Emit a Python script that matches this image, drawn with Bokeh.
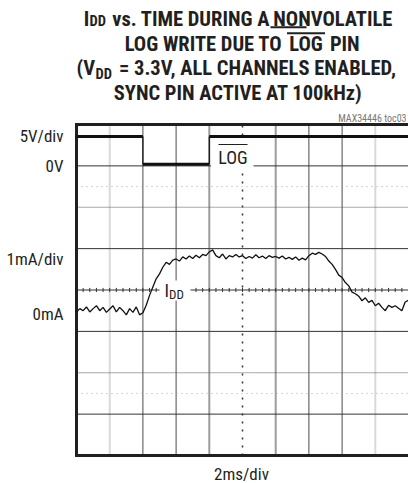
from bokeh.plotting import figure
from bokeh.models import Range1d, Label
from bokeh.embed import file_html
from bokeh.resources import INLINE

# ---------------- data ----------------
time_ms = [
    0.0, 0.2, 0.4, 0.6, 0.8, 1.0, 1.2, 1.4, 1.6, 1.8,
    2.0, 2.2, 2.4, 2.6, 2.8, 3.0, 3.2, 3.4, 3.6, 3.8,
    4.0, 4.2, 4.4, 4.6, 4.8, 5.0, 5.2, 5.4, 5.6, 5.8,
    6.0, 6.2, 6.4, 6.6, 6.8, 7.0, 7.2, 7.4, 7.6, 7.8,
    8.0, 8.2, 8.4, 8.6, 8.8, 9.0, 9.2, 9.4, 9.6, 9.8,
    10.0, 10.2, 10.4, 10.6, 10.8, 11.0, 11.2, 11.4, 11.6, 11.8,
    12.0, 12.2, 12.4, 12.6, 12.8, 13.0, 13.2, 13.4, 13.6, 13.8,
    14.0, 14.2, 14.4, 14.6, 14.8, 15.0, 15.2, 15.4, 15.6, 15.8,
    16.0, 16.2, 16.4, 16.6, 16.8, 17.0, 17.2, 17.4, 17.6, 17.8,
    18.0, 18.2, 18.4, 18.6, 18.8, 19.0, 19.2, 19.4, 19.6, 19.8,
    20.0,
]
idd_ma = [
    -0.03, 0.05, 0.00, 0.09, -0.03, 0.05, 0.12, 0.00, 0.08, -0.04,
    0.04, 0.12, -0.03, 0.08, 0.00, -0.10, 0.05, -0.04, 0.09, -0.10,
    -0.05, 0.13, 0.37, 0.57, 0.77, 0.89, 1.05, 1.17, 1.12, 1.22,
    1.25, 1.20, 1.30, 1.25, 1.32, 1.26, 1.34, 1.28, 1.36, 1.33,
    1.42, 1.47, 1.33, 1.28, 1.37, 1.25, 1.33, 1.30, 1.36, 1.30,
    1.33, 1.26, 1.31, 1.27, 1.35, 1.28, 1.32, 1.26, 1.33, 1.29,
    1.31, 1.27, 1.32, 1.25, 1.29, 1.24, 1.30, 1.22, 1.27, 1.23,
    1.33, 1.39, 1.36, 1.41, 1.37, 1.31, 1.20, 1.12, 1.00, 0.86,
    0.80, 0.68, 0.60, 0.45, 0.41, 0.35, 0.24, 0.31, 0.20, 0.25,
    0.12, 0.18, 0.08, 0.00, 0.13, 0.08, 0.12, 0.06, 0.00, 0.21,
    0.25,
]
log_time_ms = [0.0, 4.0, 4.0, 8.0, 8.0, 20.0]
log_volts = [3.55, 3.55, 0.2, 0.2, 3.55, 3.55]

# scope settings
MS_PER_DIV = 2.0
V_PER_DIV = 5.0
MA_PER_DIV = 1.0
LOG_ZERO_DIV = 7.0
IDD_ZERO_DIV = 3.5
N_XDIV = 10
N_YDIV = 8

# ---------------- layout (pixels in the picture) ----------------
W, H = 408, 483
PAGE_LEFT, PAGE_TOP = 0, 0
SCOPE_L, SCOPE_R, SCOPE_T, SCOPE_B = 76, 408, 124, 455
px_per_ms = (SCOPE_R - SCOPE_L) / (N_XDIV * MS_PER_DIV)
px_per_div = (SCOPE_B - SCOPE_T) / N_YDIV


def X(px):
    return (px - SCOPE_L) / px_per_ms


def Y(py):
    return (SCOPE_B - py) / px_per_div


FONT = "Roboto Condensed, Liberation Sans Narrow, DejaVu Sans Condensed, Roboto, sans-serif"
INK = "#231f20"

p = figure(width=W, height=H, output_backend="svg", toolbar_location=None,
           x_range=Range1d(X(PAGE_LEFT), X(PAGE_LEFT + W)),
           y_range=Range1d(Y(PAGE_TOP + H), Y(PAGE_TOP)),
           x_axis_location=None, y_axis_location=None, min_border=0)
p.outline_line_color = None
p.grid.grid_line_color = None
p.background_fill_color = "white"
p.border_fill_color = "white"

XMAX = N_XDIV * MS_PER_DIV

# vertical graticule
light = [MS_PER_DIV * i for i in (1, 9)]
medium = [MS_PER_DIV * i for i in (4, 6)]
dark = [MS_PER_DIV * i for i in (2, 3, 7, 8)]
p.segment(x0=light, y0=[0] * 2, x1=light, y1=[N_YDIV] * 2, line_color="#d9d9d9", line_width=2)
p.segment(x0=medium, y0=[0] * 2, x1=medium, y1=[N_YDIV] * 2, line_color="#9c9c9c", line_width=2)
p.segment(x0=dark, y0=[0] * 4, x1=dark, y1=[N_YDIV] * 4, line_color="#4a4a4a", line_width=1)
xc = MS_PER_DIV * N_XDIV / 2
p.segment(x0=[xc], y0=[0], x1=[xc], y1=[N_YDIV], line_color="#333333", line_width=1.5, line_dash="2 6")

# horizontal graticule
hsolid = [1, 3, 5, 7]
p.segment(x0=[0] * 4, y0=hsolid, x1=[XMAX] * 4, y1=hsolid, line_color="#333333", line_width=1)
hdot = [2, 6]
p.segment(x0=[0] * 2, y0=hdot, x1=[XMAX] * 2, y1=hdot, line_color="#555555", line_width=1.2, line_dash="1 1")
hsparse = [1.5, 6.5]
p.segment(x0=[0] * 2, y0=hsparse, x1=[XMAX] * 2, y1=hsparse, line_color="#aaaaaa", line_width=1, line_dash="1 4")
yc = N_YDIV / 2
p.segment(x0=[0], y0=[yc], x1=[XMAX], y1=[yc], line_color="#333333", line_width=1)
ticks = [0.4 * k for k in range(1, 50)]
p.segment(x0=ticks, y0=[yc - 0.05] * len(ticks), x1=ticks, y1=[yc + 0.05] * len(ticks),
          line_color="#333333", line_width=1)

# white boxes behind in-plot labels
p.quad(left=[X(210.5), X(159)], right=[X(253), X(190)], top=[Y(139), Y(280)], bottom=[Y(168), Y(300)],
       fill_color="white", line_color=None)

# scope border (left, top, bottom)
p.line([XMAX, 0, 0, XMAX], [N_YDIV, N_YDIV, 0, 0], line_color=INK, line_width=3, line_join="miter")

# LOG trace
log_y = [LOG_ZERO_DIV + v / V_PER_DIV for v in log_volts]
hx0, hy0, hx1, hy1, vx0, vy0, vx1, vy1 = [], [], [], [], [], [], [], []
for i in range(len(log_time_ms) - 1):
    if log_time_ms[i] == log_time_ms[i + 1]:
        vx0.append(log_time_ms[i]); vy0.append(log_y[i]); vx1.append(log_time_ms[i + 1]); vy1.append(log_y[i + 1])
    else:
        hx0.append(log_time_ms[i]); hy0.append(log_y[i]); hx1.append(log_time_ms[i + 1]); hy1.append(log_y[i + 1])
p.segment(x0=hx0, y0=hy0, x1=hx1, y1=hy1, line_color="#111111", line_width=3)
p.segment(x0=vx0, y0=vy0, x1=vx1, y1=vy1, line_color="#111111", line_width=1.2)

# IDD trace
idd_y = [IDD_ZERO_DIV + v / MA_PER_DIV for v in idd_ma]
p.line(time_ms, idd_y, line_color="#111111", line_width=1.3)

# over/underlines (LOG label, title LOG, title NON)
p.segment(x0=[X(218), X(286.5), X(270)], y0=[Y(144), Y(32.7), Y(26.8)],
          x1=[X(247), X(324.5), X(306)], y1=[Y(144), Y(32.7), Y(26.8)],
          line_color=[INK, INK, INK], line_width=[1.2, 2, 2])


def lab(text, px, py, size, align="left", bold=False, color=INK):
    # py = vertical centre of the capitals
    p.add_layout(Label(x=X(px), y=Y(py), text=text, text_font=FONT, text_font_size=f"{size}px",
                       text_font_style="bold" if bold else "normal", text_color=color,
                       text_align=align, text_baseline="middle"))


# title
TS = 20.5
SUB = 14.6
lab("I", 83.2, 18.7, TS, bold=True)
lab("DD", 89.1, 20.8, SUB, bold=True)
lab("vs. TIME DURING A", 111.7, 18.7, TS, bold=True)
lab("NONVOLATILE", 391.9, 18.7, TS, align="right", bold=True)
lab("LOG WRITE DUE TO", 281.6, 43.2, TS, align="right", bold=True)
lab("LOG", 305.5, 43.2, TS, align="center", bold=True)
lab("PIN", 329.4, 43.2, TS, bold=True)
lab("(V", 76, 67.7, TS, bold=True)
lab("DD", 95, 73.8, SUB, bold=True)
lab("= 3.3V, ALL CHANNELS ENABLED,", 118.5, 67.7, TS, bold=True)
lab("SYNC PIN ACTIVE AT 100kHz)", 237.5, 92.2, TS, align="center", bold=True)
lab("MAX34446 toc03", 406, 117.5, 10, align="right", color="#777777")

# channel labels
lab("5V/div", 63, 135.5, 17, align="right")
lab("0V", 63, 165, 17, align="right")
lab("1mA/div", 63, 258, 17, align="right")
lab("0mA", 63, 313.5, 17, align="right")
lab("2ms/div", 241, 473.5, 17, align="center")

# in-plot labels
lab("LOG", 232.5, 156.6, 18, align="center")
lab("I", 164, 289.7, 18)
lab("DD", 168.5, 293.8, 13)

open("out.html", "w").write(file_html(p, INLINE))
